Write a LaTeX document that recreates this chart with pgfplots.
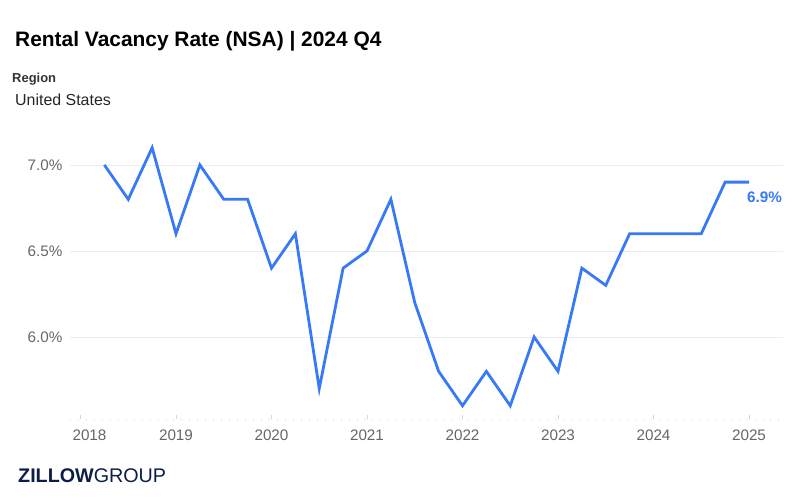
\documentclass[border=0pt]{standalone}
\usepackage{pgfplots}
\pgfplotsset{compat=1.18}
\usepackage{fontspec}
\setmainfont{Liberation Sans}
\definecolor{zblue}{RGB}{55,121,246}
\definecolor{tickgray}{RGB}{102,102,102}
\definecolor{gridgray}{RGB}{236,236,236}
\definecolor{axgray}{RGB}{215,215,215}
\definecolor{navy}{RGB}{12,30,72}
\begin{document}
\begin{tikzpicture}
\path[use as bounding box] (0bp,0bp) rectangle (799bp,499bp);
\node[anchor=base west, inner sep=0, font=\bfseries\fontsize{21}{24}\selectfont] at (15bp,452bp) {Rental Vacancy Rate (NSA) | 2024 Q4};
\node[anchor=base west, inner sep=0, text=black!80, font=\bfseries\fontsize{13}{15}\selectfont] at (12bp,416bp) {Region};
\node[anchor=base west, inner sep=0, text=black!85, font=\fontsize{16}{19}\selectfont] at (15bp,393bp) {United States};
\node[anchor=base west, inner sep=0, text=navy] at (18bp,17bp) {{\fontsize{19.8}{22}\selectfont\bfseries ZILLOW}{\fontsize{19.8}{22}\selectfont GROUP}};
\begin{axis}[
  at={(70bp,80bp)}, anchor=south west, scale only axis,
  width=713bp, height=279bp,
  xmin=2017.89, xmax=2025.356, ymin=5.523, ymax=7.145,
  axis lines*=left,
  y axis line style={draw=none},
  x axis line style={draw=axgray, line width=0.8bp, dash pattern=on 0.8bp off 7.16bp},
  xtick={2018,2019,2020,2021,2022,2023,2024,2025},
  xticklabels={\hspace{18bp}2018,2019,2020,2021,2022,2023,2024,2025},
  ytick={6,6.5,7},
  ymajorgrids, grid style={draw=gridgray, line width=0.8bp},
  tick align=inside, major tick length=4bp,
  xtick style={draw=axgray, line width=0.8bp},
  ytick style={draw=none},
  /pgf/number format/assume math mode=true,
  yticklabel={\pgfmathprintnumber[fixed,fixed zerofill,precision=1]{\tick}\%},
  ticklabel style={text=tickgray, font=\fontsize{15.3}{18}\selectfont},
  yticklabel style={xshift=-4bp},
  xticklabel style={yshift=-7bp},
  clip=false,
]
\addplot[zblue, line width=2.8bp, line join=miter] coordinates {
(2018.25,7.0) (2018.5,6.8) (2018.75,7.1) (2019.0,6.6)
(2019.25,7.0) (2019.5,6.8) (2019.75,6.8) (2020.0,6.4)
(2020.25,6.6) (2020.5,5.7) (2020.75,6.4) (2021.0,6.5)
(2021.25,6.8) (2021.5,6.2) (2021.75,5.8) (2022.0,5.6)
(2022.25,5.8) (2022.5,5.6) (2022.75,6.0) (2023.0,5.8)
(2023.25,6.4) (2023.5,6.3) (2023.75,6.6) (2024.0,6.6)
(2024.25,6.6) (2024.5,6.6) (2024.75,6.9) (2025.0,6.9)
};
\node[anchor=north west, inner sep=0, text=zblue, font=\bfseries\fontsize{15.3}{18}\selectfont, xshift=-2bp, yshift=-9.5bp] at (axis cs:2025,6.9) {6.9\%};
\end{axis}
\end{tikzpicture}
\end{document}
